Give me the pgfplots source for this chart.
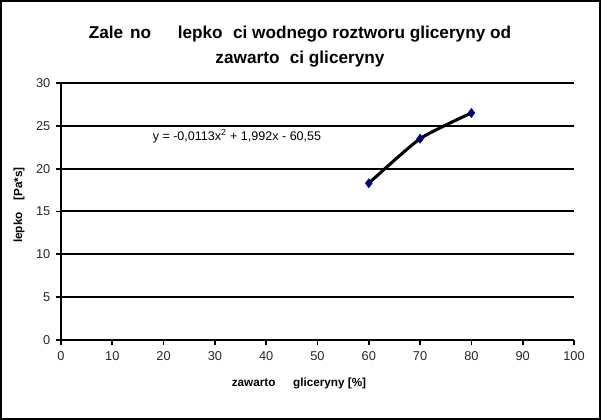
\documentclass[border=0pt]{standalone}
\usepackage{pgfplots}
\pgfplotsset{compat=1.18}
\usepackage{fontspec}
\setmainfont{Liberation Sans}
\begin{document}
\begin{tikzpicture}[x=0.75pt,y=0.75pt]
\begin{axis}[
  scale only axis,
  width=384.75pt, height=192.75pt,
  xmin=0, xmax=100, ymin=0, ymax=30,
  xtick={0,10,...,100}, ytick={0,5,...,30},
  axis x line*=bottom, axis y line*=left,
  axis line style={line width=1.5pt, -},
  tick align=outside, tick style={line width=1.3pt, black},
  major tick length=4pt,
  ymajorgrids, grid style={line width=1.5pt, black},
  tick label style={font=\fontsize{9.6}{11}\selectfont, text=black!85},
  /pgf/number format/assume math mode=true,
  xticklabel style={yshift=-1.5pt},
  yticklabel style={xshift=-0.5pt},
  clip=false,
]
\addplot[black, line width=2.3pt, smooth, tension=0.35] coordinates {(60,18.3) (70,23.5) (80,26.5)};
\addplot[only marks, mark=diamond*, mark size=3.4pt, color={rgb,255:red,0;green,0;blue,128}] coordinates {(60,18.3) (70,23.5) (80,26.5)};
\node[font=\fontsize{9.4}{11}\selectfont] at (axis cs:34.3,23.8) {y = -0,0113x\textsuperscript{2} + 1,992x - 60,55};
\end{axis}
\node[font=\fontsize{12.9}{14}\bfseries] at (239,306) {Zale\hspace{0.4em}no\hspace{1.55em}lepko\hspace{0.6em}ci wodnego roztworu gliceryny od};
\node[font=\fontsize{12.9}{14}\bfseries] at (239,281) {zawarto\hspace{0.6em}ci gliceryny};
\node[font=\fontsize{8.8}{10}\bfseries] at (238,-43) {zawarto\hspace{1.5em}gliceryny [\%]};
\node[font=\fontsize{8.8}{10}\bfseries, rotate=90] at (-42,135) {lepko\hspace{1em}[Pa*s]};
\draw[line width=1.5pt] (-60,-79) rectangle (539,339);
\path[use as bounding box] (-61,-80) rectangle (540,340);
\end{tikzpicture}
\end{document}
